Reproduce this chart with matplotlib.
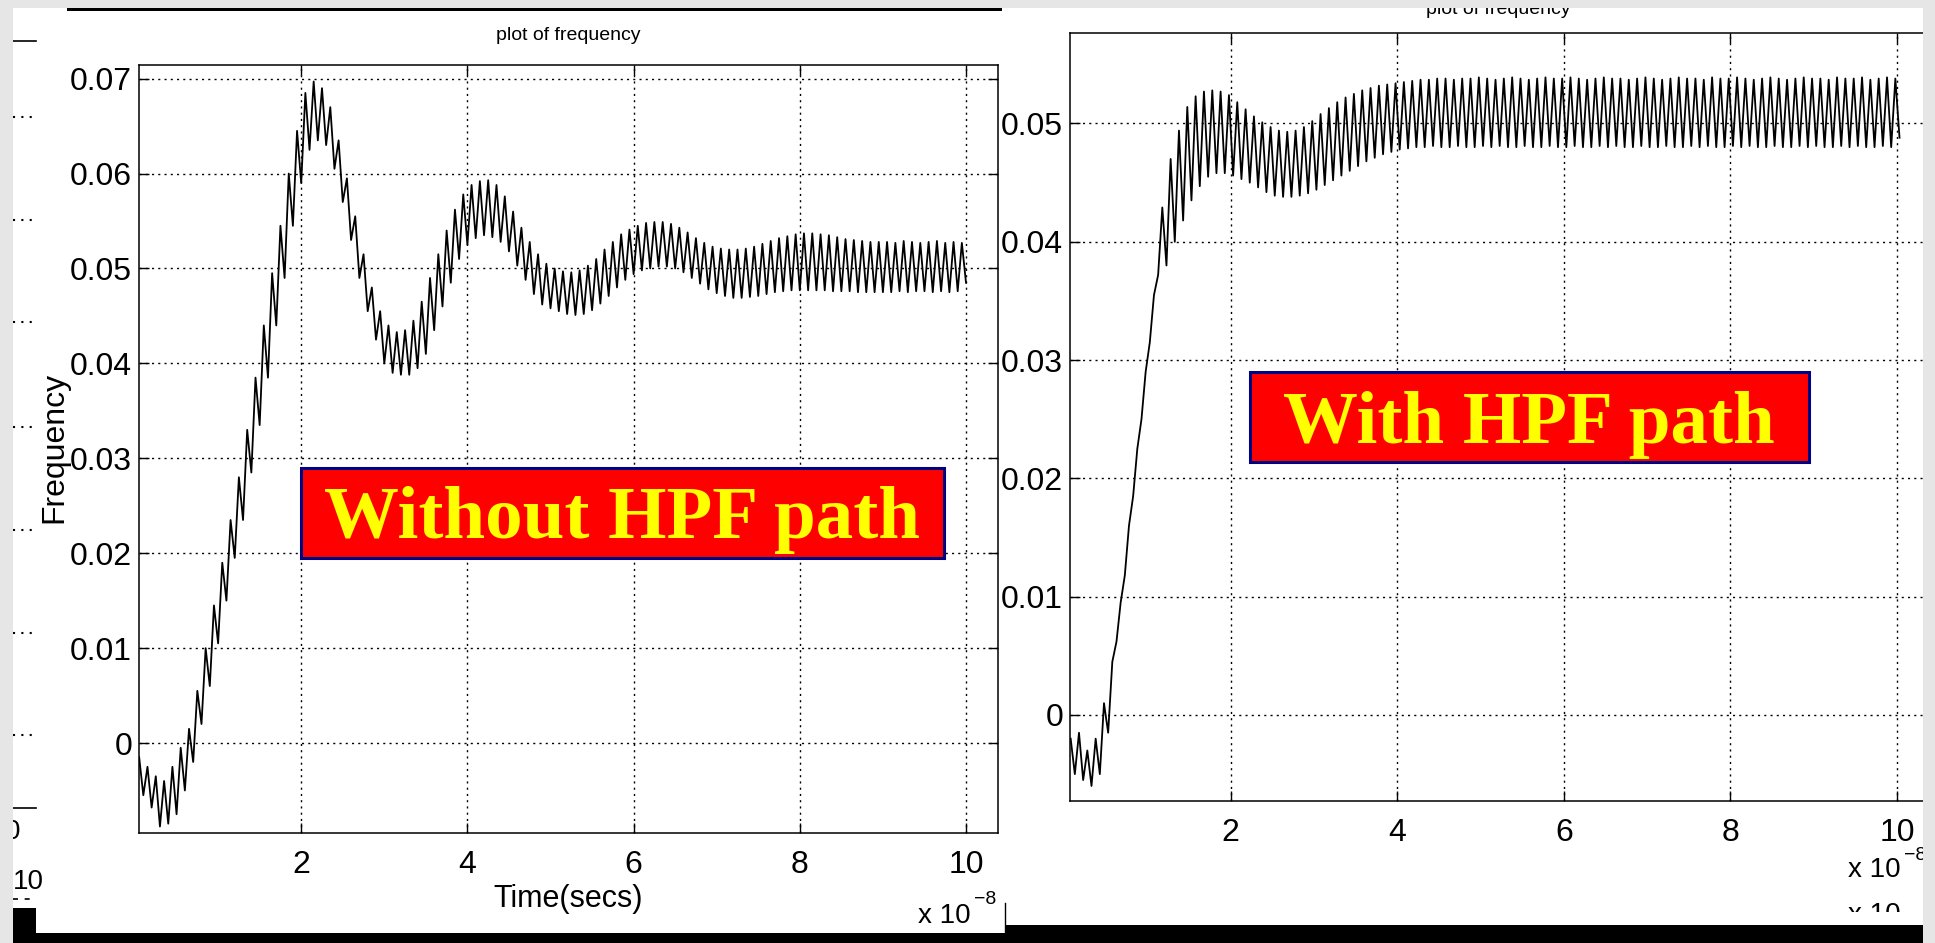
import numpy as np
import matplotlib
matplotlib.use("Agg")
import matplotlib.pyplot as plt
from matplotlib.patches import Rectangle
from matplotlib.lines import Line2D

plt.rcParams['font.family'] = ['Liberation Sans', 'DejaVu Sans']

# ---- data (time in units of 1e-8 s, one ripple cycle = 0.1) ----
# left plot: without HPF path, per-cycle ripple maxima / minima
left_peaks = [
    -0.0015, -0.0025, -0.0035, -0.0040, -0.0025, -0.0005, 0.0015, 0.0055, 0.0100, 0.0145,
    0.0190, 0.0235, 0.0280, 0.0330, 0.0385, 0.0440, 0.0495, 0.0545, 0.0600, 0.0645,
    0.0685, 0.0697, 0.0690, 0.0670, 0.0635, 0.0595, 0.0555, 0.0515, 0.0480, 0.0455,
    0.0440, 0.0433, 0.0435, 0.0445, 0.0465, 0.0490, 0.0515, 0.0540, 0.0562, 0.0578,
    0.0588, 0.0592, 0.0593, 0.0588, 0.0576, 0.0560, 0.0543, 0.0528, 0.0515, 0.0505,
    0.0500, 0.0497, 0.0496, 0.0498, 0.0503, 0.0510, 0.0520, 0.0528, 0.0536, 0.0541,
    0.0545, 0.0548, 0.0549, 0.0549, 0.0547, 0.0543, 0.0538, 0.0532, 0.0527, 0.0523,
    0.0521, 0.0520, 0.0520, 0.0521, 0.0523, 0.0526, 0.0529, 0.0532, 0.0534, 0.0536,
    0.0537, 0.0537, 0.0536, 0.0535, 0.0533, 0.0531, 0.0530, 0.0529, 0.0528, 0.0528,
    0.0528, 0.0527, 0.0529, 0.0528, 0.0527, 0.0528, 0.0529, 0.0527, 0.0528, 0.0527,
]
left_troughs = [
    -0.0055, -0.0068, -0.0088, -0.0085, -0.0075, -0.0050, -0.0020, 0.0020, 0.0060, 0.0105,
    0.0150, 0.0195, 0.0235, 0.0285, 0.0335, 0.0385, 0.0440, 0.0490, 0.0545, 0.0590,
    0.0625, 0.0635, 0.0630, 0.0605, 0.0570, 0.0530, 0.0490, 0.0455, 0.0425, 0.0400,
    0.0390, 0.0388, 0.0388, 0.0395, 0.0410, 0.0435, 0.0460, 0.0485, 0.0510, 0.0525,
    0.0532, 0.0535, 0.0533, 0.0528, 0.0518, 0.0503, 0.0488, 0.0473, 0.0462, 0.0458,
    0.0455, 0.0452, 0.0451, 0.0452, 0.0456, 0.0463, 0.0471, 0.0480, 0.0488, 0.0494,
    0.0498, 0.0500, 0.0502, 0.0502, 0.0500, 0.0496, 0.0490, 0.0484, 0.0478, 0.0474,
    0.0471, 0.0469, 0.0469, 0.0470, 0.0471, 0.0473, 0.0475, 0.0476, 0.0477, 0.0477,
    0.0477, 0.0477, 0.0477, 0.0476, 0.0476, 0.0476, 0.0475, 0.0475, 0.0475, 0.0475,
    0.0475, 0.0476, 0.0475, 0.0476, 0.0476, 0.0475, 0.0476, 0.0475, 0.0476, 0.0485,
]

# right plot: with HPF path
right_peaks = [
    -0.0020, -0.0015, -0.0030, -0.0020, 0.0010, 0.0045, 0.0095, 0.0160, 0.0225, 0.0290,
    0.0355, 0.0429, 0.0470, 0.0494, 0.0514, 0.0523, 0.0527, 0.0528, 0.0527, 0.0524,
    0.0518, 0.0512, 0.0506, 0.0501, 0.0497, 0.0494, 0.0493, 0.0494, 0.0497, 0.0502,
    0.0508, 0.0513, 0.0518, 0.0522, 0.0525, 0.0528, 0.0530, 0.0532, 0.0533, 0.0534,
    0.0535, 0.0536, 0.0537, 0.0537, 0.0538, 0.0538, 0.0537, 0.0538, 0.0538, 0.0539,
    0.0538, 0.0537, 0.0538, 0.0539, 0.0538, 0.0537, 0.0538, 0.0539, 0.0538, 0.0538,
    0.0539, 0.0538, 0.0537, 0.0538, 0.0539, 0.0538, 0.0538, 0.0537, 0.0538, 0.0539,
    0.0538, 0.0537, 0.0538, 0.0539, 0.0538, 0.0538, 0.0537, 0.0539, 0.0538, 0.0538,
    0.0539, 0.0538, 0.0537, 0.0538, 0.0539, 0.0538, 0.0537, 0.0538, 0.0539, 0.0538,
    0.0538, 0.0537, 0.0539, 0.0538, 0.0538, 0.0539, 0.0537, 0.0538, 0.0539, 0.0538,
]
right_troughs = [
    -0.0050, -0.0055, -0.0060, -0.0050, -0.0015, 0.0062, 0.0118, 0.0185, 0.0250, 0.0315,
    0.0372, 0.0380, 0.0400, 0.0418, 0.0435, 0.0447, 0.0455, 0.0458, 0.0458, 0.0456,
    0.0453, 0.0450, 0.0446, 0.0442, 0.0439, 0.0438, 0.0438, 0.0439, 0.0441, 0.0444,
    0.0448, 0.0452, 0.0456, 0.0460, 0.0464, 0.0468, 0.0471, 0.0474, 0.0476, 0.0478,
    0.0479, 0.0480, 0.0480, 0.0481, 0.0480, 0.0480, 0.0481, 0.0480, 0.0480, 0.0481,
    0.0480, 0.0481, 0.0480, 0.0480, 0.0481, 0.0480, 0.0480, 0.0481, 0.0480, 0.0480,
    0.0481, 0.0480, 0.0480, 0.0481, 0.0480, 0.0481, 0.0480, 0.0480, 0.0481, 0.0480,
    0.0480, 0.0481, 0.0480, 0.0480, 0.0481, 0.0480, 0.0481, 0.0480, 0.0480, 0.0481,
    0.0480, 0.0481, 0.0480, 0.0480, 0.0481, 0.0480, 0.0480, 0.0481, 0.0480, 0.0481,
    0.0480, 0.0480, 0.0481, 0.0480, 0.0481, 0.0480, 0.0480, 0.0481, 0.0480, 0.0488,
]

x_ticks = [2, 4, 6, 8, 10]
x_ticklabels = ['2', '4', '6', '8', '10']
left_yticks = [0, 0.01, 0.02, 0.03, 0.04, 0.05, 0.06, 0.07]
left_yticklabels = ['0', '0.01', '0.02', '0.03', '0.04', '0.05', '0.06', '0.07']
right_yticks = [0, 0.01, 0.02, 0.03, 0.04, 0.05]
right_yticklabels = ['0', '0.01', '0.02', '0.03', '0.04', '0.05']

W, H = 1935, 943
GREY = '#e6e6e6'


def fx(x):
    return x / W


def fy(y):
    return 1 - y / H


def rect(x0, y0, x1, y1, color, z, ec='none', lw=0):
    fig.add_artist(Rectangle((fx(x0), fy(y1)), (x1 - x0) / W, (y1 - y0) / H,
                             transform=fig.transFigure, facecolor=color,
                             edgecolor=ec, linewidth=lw, zorder=z))


def hline(x0, x1, y, lw=1.2, ls='-', z=2):
    fig.add_artist(Line2D([fx(x0), fx(x1)], [fy(y), fy(y)], transform=fig.transFigure,
                          color='black', linewidth=lw, linestyle=ls, zorder=z))


def ripple(t0, peaks, troughs):
    tp = t0 + 0.1 * np.arange(len(peaks))
    tt = tp + 0.05
    x = np.column_stack([tp, tt]).ravel()
    y = np.column_stack([peaks, troughs]).ravel()
    return x, y


def style_axes(ax, yticks, yticklabels):
    ax.set_xticks(x_ticks)
    ax.set_xticklabels(x_ticklabels)
    ax.set_yticks(yticks)
    ax.set_yticklabels(yticklabels)
    ax.tick_params(direction='in', top=True, right=True, length=7, width=1,
                   labelsize=23, colors='black')
    ax.tick_params(axis='x', pad=12)
    ax.tick_params(axis='y', pad=5)
    ax.grid(True, color='black', linewidth=1.0, linestyle=(0, (1.5, 3)))
    for s in ax.spines.values():
        s.set_linewidth(1.1)
        s.set_color('black')


fig = plt.figure(figsize=(W / 100, H / 100), dpi=100, facecolor=GREY)

# white screenshot panels
rect(13, 8, 1005, 943, 'white', -5)
rect(1005, 8, 1923, 943, 'white', -5)

# left plot
ax1 = fig.add_axes([fx(139), fy(833), (998 - 139) / W, (833 - 65) / H])
xl, yl = ripple(0.05, left_peaks, left_troughs)
ax1.plot(xl, yl, color='black', linewidth=1.3)
ax1.set_xlim(0.048, 10.385)
ax1.set_ylim(-0.00948, 0.07144)
style_axes(ax1, left_yticks, left_yticklabels)

# right plot (its right part is cut off by the screenshot edge)
ax2 = fig.add_axes([fx(1070), fy(801), (1950 - 1070) / W, (801 - 33) / H])
xr, yr = ripple(0.08, right_peaks, right_troughs)
ax2.plot(xr, yr, color='black', linewidth=1.3)
ax2.set_xlim(0.072, 10.636)
ax2.set_ylim(-0.00727, 0.05765)
style_axes(ax2, right_yticks, right_yticklabels)

# labels
fig.text(fx(568), fy(35), 'plot of frequency', fontsize=14, ha='center', va='center')
fig.text(fx(1498), fy(9), 'plot of frequency', fontsize=14, ha='center', va='center')
fig.text(fx(568), fy(899), 'Time(secs)', fontsize=22, ha='center', va='center')
fig.text(fx(54), fy(447), 'Frequency', fontsize=23, rotation=90, ha='center', va='center')

fig.text(fx(918), fy(923), 'x 10', fontsize=20, ha='left', va='baseline')
fig.text(fx(974), fy(904), '\u22128', fontsize=14, ha='left', va='baseline')
fig.text(fx(1848), fy(877), 'x 10', fontsize=20, ha='left', va='baseline')
fig.text(fx(1904), fy(860), '\u22128', fontsize=14, ha='left', va='baseline')
fig.text(fx(1848), fy(922), 'x 10', fontsize=20, ha='left', va='baseline')
rect(1840, 912, 1923, 925, 'white', 4)

# annotation boxes
rect(301, 468, 944, 558, '#ff0000', 6, ec='#000080', lw=2.2)
fig.text(fx(622), fy(538), 'Without HPF path', fontsize=54, fontweight='bold',
         family=['Liberation Serif', 'DejaVu Serif'], color='#ffff00',
         ha='center', va='baseline', zorder=7)
rect(1250, 372, 1809, 462, '#ff0000', 6, ec='#000080', lw=2.2)
fig.text(fx(1529), fy(443), 'With HPF path', fontsize=54, fontweight='bold',
         family=['Liberation Serif', 'DejaVu Serif'], color='#ffff00',
         ha='center', va='baseline', zorder=7)

# leftovers of the window underneath on the far left
hline(13, 36, 41)
for yy in [117, 220, 322, 427, 530, 633, 735]:
    hline(13, 35, yy, lw=1.5, ls=(0, (1, 3)))
hline(13, 36, 808)
fig.text(fx(20), fy(832), '0', fontsize=20, ha='right', va='center')
fig.text(fx(13), fy(882), '10', fontsize=20, ha='left', va='center')
hline(13, 34, 899, lw=1.2, ls=(0, (3, 4)))

# black bars and frame edges of the screenshot
rect(67, 7, 1002, 11, 'black', 8)
rect(13, 908, 36, 943, 'black', 8)
rect(13, 933, 1005, 943, 'black', 8)
rect(1005, 925, 1923, 943, 'black', 8)
fig.add_artist(Line2D([fx(1005), fx(1005)], [fy(903), fy(933)], transform=fig.transFigure,
                      color='black', linewidth=1.0, zorder=8))

# grey margins cover everything outside the screenshot
rect(0, 0, W, 8, GREY, 10)
rect(0, 0, 13, H, GREY, 10)
rect(1923, 0, W, H, GREY, 10)

fig.savefig('out.png', dpi=100, facecolor=GREY)
